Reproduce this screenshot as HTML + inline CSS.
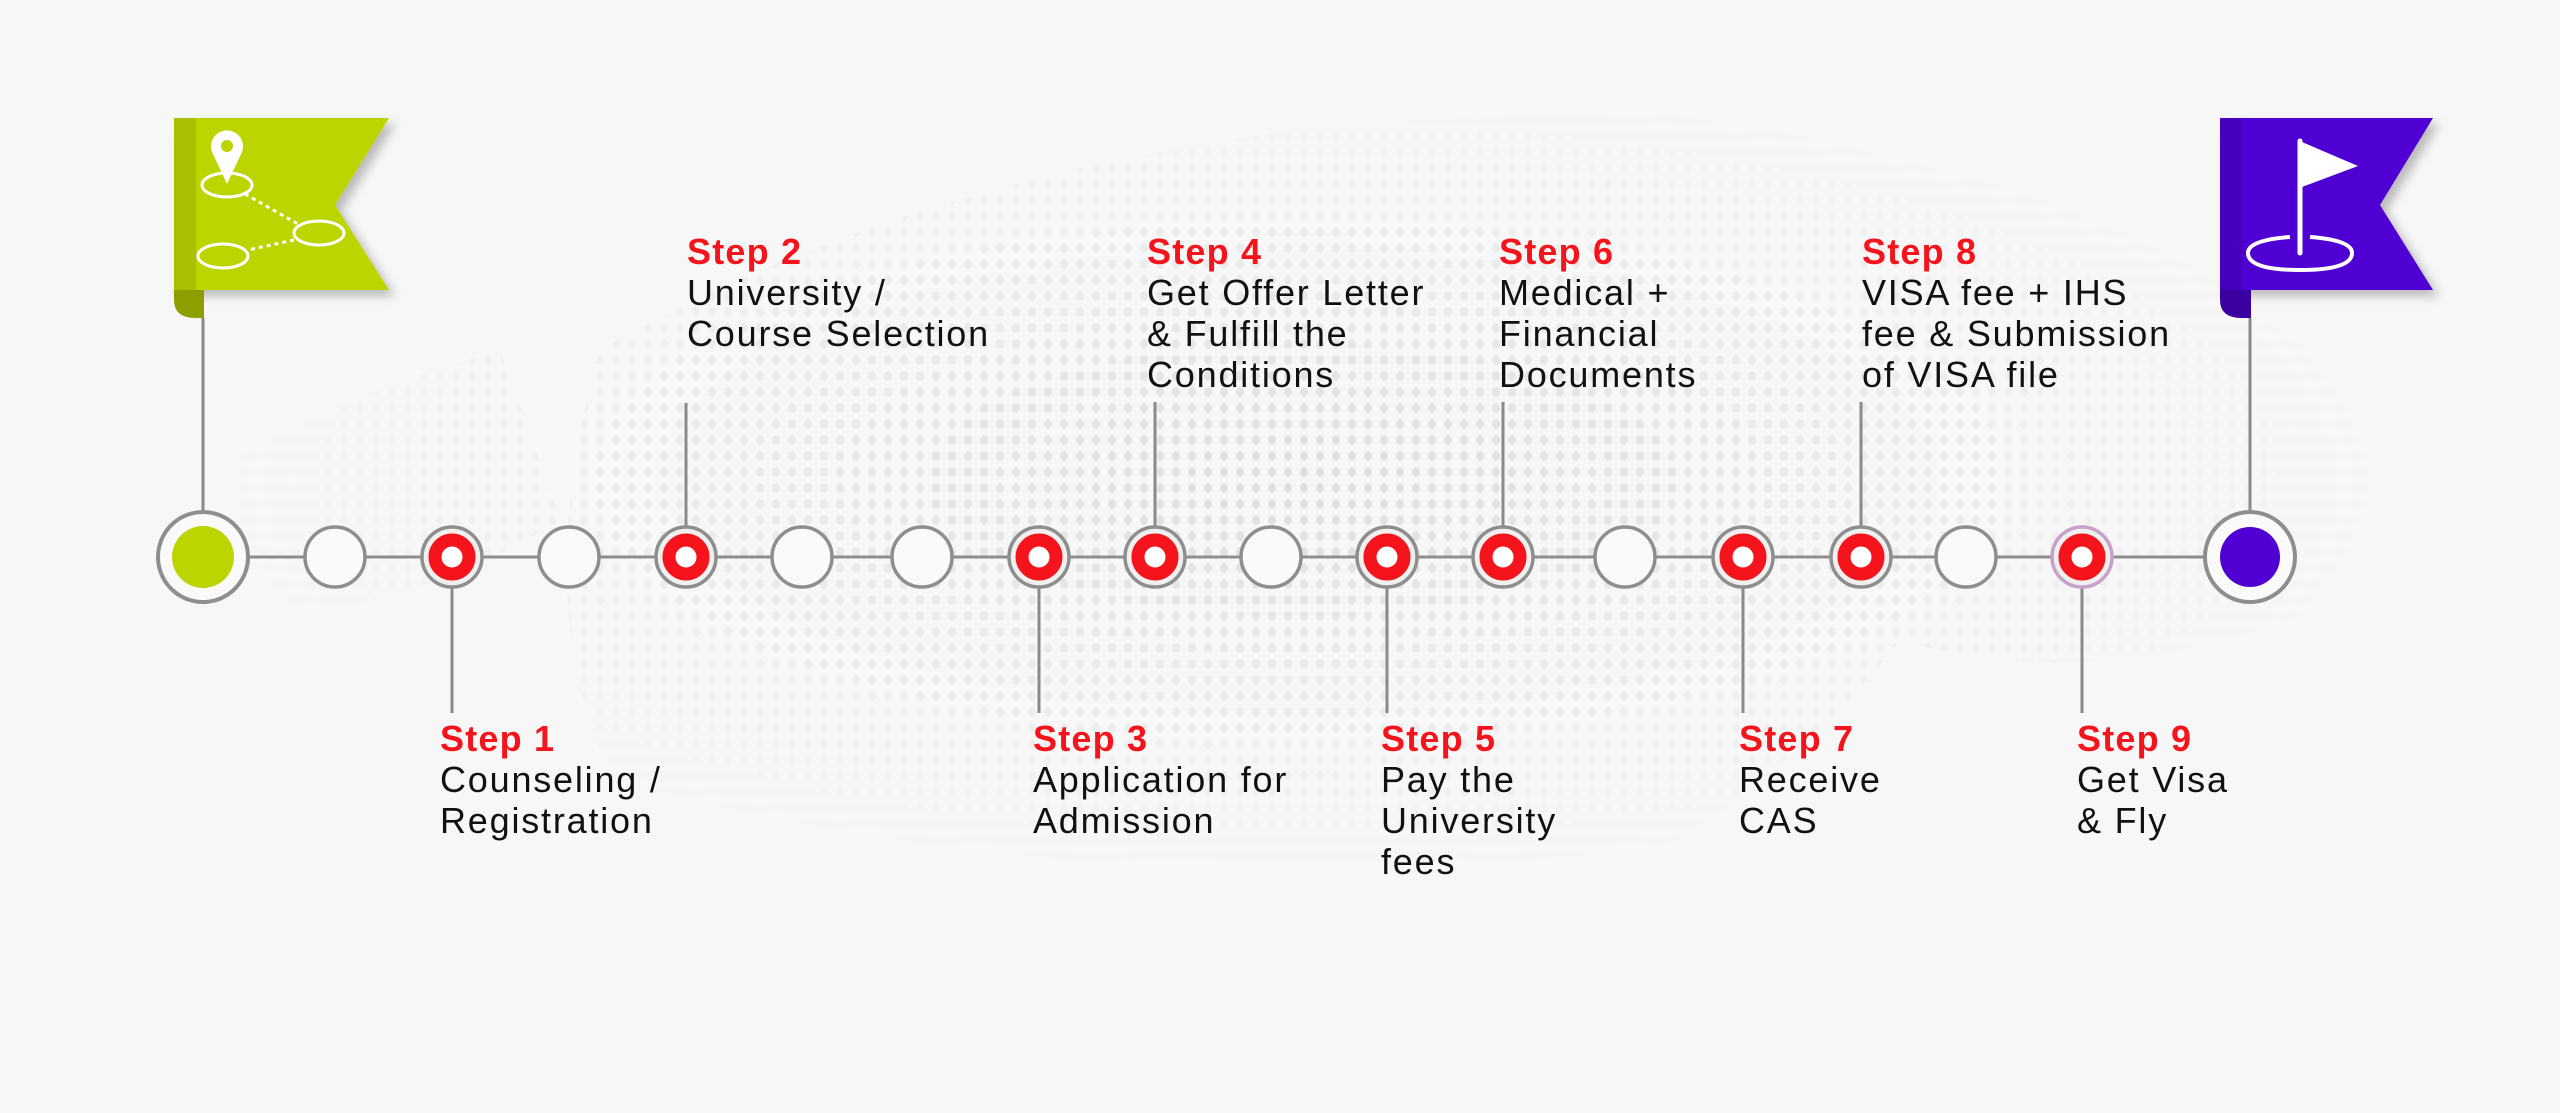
<!DOCTYPE html>
<html><head><meta charset="utf-8"><style>
html,body{margin:0;padding:0;}
body{width:2560px;height:1113px;overflow:hidden;background:#f6f6f6;position:relative;font-family:"Liberation Sans",sans-serif;}
.t{position:absolute;font-size:36px;line-height:41px;color:#111;letter-spacing:1.8px;white-space:nowrap;}
.t b{color:#f5141b;font-weight:bold;font-size:36px;letter-spacing:1.2px;display:block;}
svg{position:absolute;left:0;top:0;}
</style></head><body>
<svg width="2560" height="1113" viewBox="0 0 2560 1113">
<defs>
<pattern id="dots" width="16" height="16" patternUnits="userSpaceOnUse">
<ellipse cx="8" cy="8" rx="4" ry="5" fill="#dcdcdc"/>
</pattern>
<radialGradient id="g1" cx="50%" cy="50%" r="50%"><stop offset="0" stop-color="#fff" stop-opacity="1"/><stop offset="1" stop-color="#fff" stop-opacity="0"/></radialGradient>
<mask id="m"><rect width="2560" height="1113" fill="#000"/>
<ellipse cx="1300" cy="480" rx="1150" ry="420" fill="url(#g1)"/></mask>
<filter id="sh" x="-20%" y="-20%" width="140%" height="140%"><feDropShadow dx="6" dy="6" stdDeviation="5" flood-opacity="0.25"/></filter>
</defs>
<rect width="2560" height="1113" fill="#f7f7f7"/>
<g mask="url(#m)" opacity="0.9">
<path d="M600 350 Q900 180 1300 130 Q1700 90 2100 160 Q2300 220 2400 380 L2350 600 Q2100 700 1900 640 Q1700 900 1300 980 Q900 1000 700 900 Q500 700 600 350Z" fill="url(#dots)"/>
<path d="M100 560 Q250 420 500 350 L560 520 Q400 620 200 620Z" fill="url(#dots)"/>
</g>
<g filter="url(#sh)">
<path d="M190 118 H389 L335 205 L389 290 H174 V135 Q174 118 190 118Z" fill="#bcd400"/>
</g>
<path d="M174 290 H204 V318 H196 Q174 318 174 300Z" fill="#8c9e00"/>
<rect x="174" y="118" width="22" height="172" fill="#a9bf00"/>
<line x1="203" y1="318" x2="203" y2="512" stroke="#8a8a8a" stroke-width="3"/>
<g fill="none" stroke="#fff" stroke-width="3">
<ellipse cx="227" cy="185" rx="25" ry="12"/>
<ellipse cx="319" cy="233" rx="25" ry="12"/>
<ellipse cx="223" cy="256" rx="25" ry="12"/>
<line x1="245" y1="194" x2="298" y2="224" stroke-dasharray="4 4"/>
<line x1="294" y1="240" x2="248" y2="250" stroke-dasharray="4 4"/>
</g>
<path d="M227 184 L212 152 A16 16 0 1 1 242 152 Z" fill="#fff"/>
<circle cx="227" cy="146" r="6" fill="#bcd400"/>
<g filter="url(#sh)">
<path d="M2236 118 H2433 L2380 205 L2433 290 H2220 V135 Q2220 118 2236 118Z" fill="#5000d2"/>
</g>
<path d="M2220 290 H2251 V318 H2242 Q2220 318 2220 300Z" fill="#3a00a0"/>
<rect x="2220" y="118" width="22" height="172" fill="#4700bd"/>
<line x1="2250" y1="318" x2="2250" y2="512" stroke="#8a8a8a" stroke-width="3"/>
<line x1="2300" y1="141" x2="2300" y2="253" stroke="#fff" stroke-width="5" stroke-linecap="round"/>
<path d="M2302 142 L2358 166 L2302 187Z" fill="#fff"/>
<path d="M2290 237 Q2248 240 2248 253 Q2248 270 2300 270 Q2352 270 2352 253 Q2352 240 2310 237" fill="none" stroke="#fff" stroke-width="4"/>
<line x1="248" y1="557" x2="2204" y2="557" stroke="#8e8e8e" stroke-width="3"/>
<g stroke="#8a8a8a" stroke-width="3">
<line x1="686" y1="403" x2="686" y2="530"/>
<line x1="1155" y1="402" x2="1155" y2="530"/>
<line x1="1503" y1="402" x2="1503" y2="530"/>
<line x1="1861" y1="402" x2="1861" y2="530"/>
<line x1="452" y1="585" x2="452" y2="713"/>
<line x1="1039" y1="585" x2="1039" y2="713"/>
<line x1="1387" y1="585" x2="1387" y2="713"/>
<line x1="1743" y1="585" x2="1743" y2="713"/>
<line x1="2082" y1="585" x2="2082" y2="713"/>
</g>
<circle cx="203" cy="557" r="45" fill="#fafafa" stroke="#8e8e8e" stroke-width="4"/>
<circle cx="203" cy="557" r="31" fill="#bcd400"/>
<circle cx="2250" cy="557" r="45" fill="#fafafa" stroke="#8e8e8e" stroke-width="4"/>
<circle cx="2250" cy="557" r="30" fill="#5000d2"/>
<g fill="#fafafa" stroke="#8e8e8e" stroke-width="3.5">
<circle cx="335" cy="557" r="30"/>
<circle cx="569" cy="557" r="30"/>
<circle cx="802" cy="557" r="30"/>
<circle cx="922" cy="557" r="30"/>
<circle cx="1271" cy="557" r="30"/>
<circle cx="1625" cy="557" r="30"/>
<circle cx="1966" cy="557" r="30"/>
</g>
<g stroke="#8e8e8e" stroke-width="3.5" fill="#f0f0f0">
<circle cx="452" cy="557" r="30"/><circle cx="686" cy="557" r="30"/><circle cx="1039" cy="557" r="30"/><circle cx="1155" cy="557" r="30"/><circle cx="1387" cy="557" r="30"/><circle cx="1503" cy="557" r="30"/><circle cx="1743" cy="557" r="30"/><circle cx="1861" cy="557" r="30"/><circle cx="2082" cy="557" r="30" stroke="#c9a0c9"/>
</g>
<g fill="#fff" stroke="#f5141b" stroke-width="13">
<circle cx="452" cy="557" r="17"/><circle cx="686" cy="557" r="17"/><circle cx="1039" cy="557" r="17"/><circle cx="1155" cy="557" r="17"/><circle cx="1387" cy="557" r="17"/><circle cx="1503" cy="557" r="17"/><circle cx="1743" cy="557" r="17"/><circle cx="1861" cy="557" r="17"/><circle cx="2082" cy="557" r="17"/>
</g>
</svg>
<div class="t" style="left:687px;top:231px"><b>Step 2</b>University /<br>Course Selection</div>
<div class="t" style="left:1147px;top:231px"><b>Step 4</b>Get Offer Letter<br>&amp; Fulfill the<br>Conditions</div>
<div class="t" style="left:1499px;top:231px"><b>Step 6</b>Medical +<br>Financial<br>Documents</div>
<div class="t" style="left:1862px;top:231px"><b>Step 8</b>VISA fee + IHS<br>fee &amp; Submission<br>of VISA file</div>
<div class="t" style="left:440px;top:718px"><b>Step 1</b>Counseling /<br>Registration</div>
<div class="t" style="left:1033px;top:718px"><b>Step 3</b>Application for<br>Admission</div>
<div class="t" style="left:1381px;top:718px"><b>Step 5</b>Pay the<br>University<br>fees</div>
<div class="t" style="left:1739px;top:718px"><b>Step 7</b>Receive<br>CAS</div>
<div class="t" style="left:2077px;top:718px"><b>Step 9</b>Get Visa<br>&amp; Fly</div>
</body></html>
